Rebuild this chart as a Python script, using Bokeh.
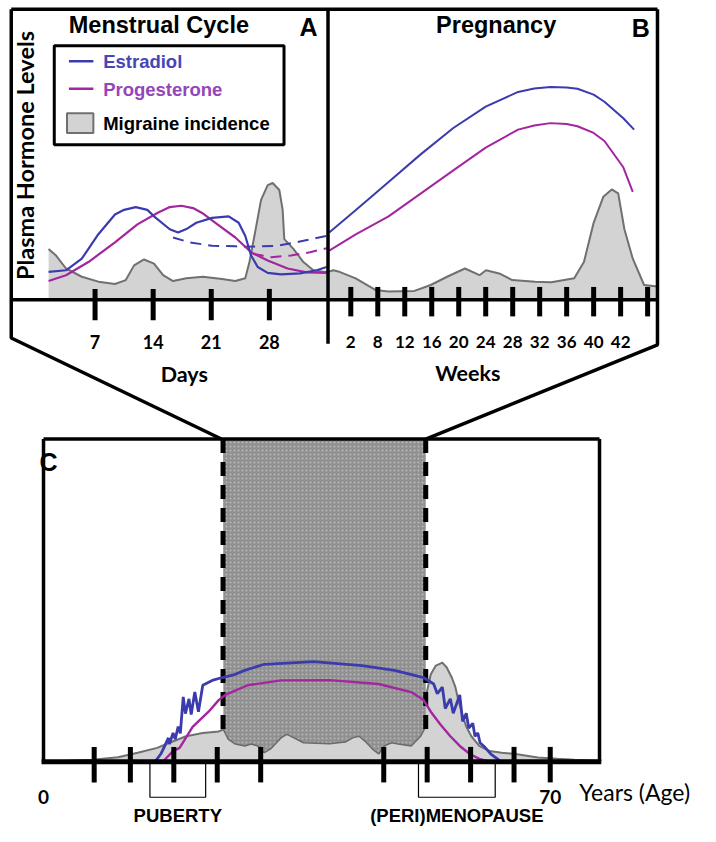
import math
from bokeh.plotting import figure
from bokeh.models import Range1d
from bokeh.core.properties import value
from bokeh.embed import file_html
from bokeh.resources import INLINE

# ------------------------------------------------------------------ data
SERIES = ["Estradiol", "Progesterone", "Migraine incidence"]

# Panel A : menstrual cycle (x = day of cycle, y = relative level)
A_E2_DAY = [1.4, 3.5, 5.4, 7.4, 9.4, 10.5, 11.9, 13.3, 14.1, 16.0, 17.0, 18.0, 19.2, 21.1, 23.1, 24.3, 25.1, 25.8,
            26.6, 27.8, 29.4, 31.7, 33.7, 34.9]
A_E2 = [14.2, 15.0, 20.9, 33.4, 43.4, 45.8, 47.2, 45.8, 42.5, 35.9, 34.2, 36.0, 39.2, 41.7, 42.5, 39.2, 32.5, 22.5,
        16.7, 13.7, 12.9, 13.4, 15.0, 16.7]
A_E2_ALT_DAY = [16.4, 18.4, 21.1, 23.9, 25.1, 29.0, 32.1, 34.9]
A_E2_ALT = [31.7, 29.2, 27.5, 27.2, 27.0, 27.5, 30.0, 32.5]
A_P4_DAY = [1.4, 3.5, 6.2, 9.4, 12.1, 14.5, 16.0, 17.4, 18.8, 19.9, 21.5, 23.9, 25.8, 27.8, 30.2, 32.5, 34.9]
A_P4 = [9.5, 12.5, 19.2, 29.2, 38.4, 44.2, 47.2, 47.9, 46.7, 44.2, 39.2, 31.7, 24.2, 20.0, 15.9, 13.9, 13.7]
A_P4_ALT_DAY = [26.0, 28.2, 30.6, 32.9, 34.9]
A_P4_ALT = [23.4, 21.7, 22.5, 24.2, 26.2]
A_MIG_DAY = [1.4, 2.3, 3.5, 5.4, 7.4, 9.4, 10.7, 11.7, 12.9, 14.1, 15.2, 16.4, 18.0, 20.0, 22.3, 23.9, 25.1,
             25.6, 26.2, 27.0, 27.8, 28.4, 29.2, 29.6, 29.8, 30.9, 32.1, 33.3, 34.5, 35.1]
A_MIG = [25.9, 22.5, 15.9, 11.7, 9.2, 8.0, 10.0, 17.5, 20.5, 18.4, 12.5, 9.5, 10.9, 11.7, 10.5, 9.5, 10.9,
         19.2, 32.5, 50.9, 58.4, 59.5, 55.9, 45.9, 30.9, 25.9, 19.2, 15.0, 14.2, 14.2]
A_TICK_DAYS = [7, 14, 21, 28]

# Panel B : pregnancy (x = tick slot, labelled in weeks)
B_TICK_POS = [1, 2, 3, 4, 5, 6, 7, 8, 9, 10, 11, 12]
B_TICK_LABELS = ["2", "8", "12", "16", "20", "24", "28", "32", "36", "40", "42", ""]
B_E2_POS = [0.2, 1.2, 2.4, 3.6, 4.8, 6.0, 7.2, 7.8, 8.4, 9.0, 9.4, 10.0, 10.4, 11.1, 11.5]
B_E2 = [34.2, 45.9, 60.0, 74.2, 87.5, 98.4, 105.9, 107.6, 108.4, 108.2, 107.5, 104.5, 100.9, 92.5, 86.7]
B_P4_POS = [0.2, 1.2, 2.4, 3.6, 4.8, 6.0, 7.2, 7.8, 8.4, 9.0, 9.4, 10.0, 10.4, 11.1, 11.45]
B_P4 = [25.0, 33.4, 42.5, 54.2, 65.9, 77.5, 86.7, 88.8, 90.0, 89.6, 88.4, 85.0, 80.9, 67.5, 55.0]
B_MIG_POS = [0.16, 0.35, 0.58, 1.18, 1.91, 2.39, 3.36, 3.96, 4.57, 5.23, 5.77, 6.01, 6.5, 6.98, 7.83, 8.43,
             9.28, 9.64, 10.0, 10.36, 10.67, 10.91, 11.14, 11.45, 11.87, 12.37]
B_MIG = [14.2, 15.0, 14.2, 10.9, 5.0, 4.2, 4.5, 7.5, 11.7, 15.9, 12.5, 15.0, 13.4, 10.0, 9.2, 8.9,
         10.9, 19.2, 39.2, 52.5, 56.2, 54.2, 35.9, 20.9, 7.5, 6.7]

# Panel C : lifespan (x = years of age)
C_TICK_YEARS = [7, 12, 18, 24, 30, 47, 53, 59, 65, 70]
C_LABEL_YEARS = [0, 70]
C_LABELS = ["0", "70"]
REPRO_YEARS = [24.8, 52.8]
PHASES = ["PUBERTY", "(PERI)MENOPAUSE"]
PHASE_START = [14.7, 51.8]
PHASE_END = [22.4, 62.4]
C_MIG_YR = [0, 6.75, 10.3, 13.0, 15.7, 17.4, 19.7, 22.0, 24.2, 24.85, 34.6, 45.4, 52.8, 53.5, 54.2, 55.1, 55.7,
            56.4, 56.9, 57.3, 57.8, 58.4, 59.1, 60.2, 61.6, 63.3, 65.2, 68.3, 71.0, 73.3, 76.7]
C_MIG = [0, 0.6, 1.4, 2.8, 4.3, 5.9, 7.9, 8.9, 9.4, 10.0, 10.9, 10.9, 20.1, 27.1, 29.8, 30.7, 29.2,
         26.1, 23.1, 19.1, 15.0, 10.9, 7.9, 4.9, 3.3, 2.8, 2.4, 1.3, 0.9, 0.6, 0.3]
C_SHADE_YR = [24.85, 25.5, 26.5, 27.8, 28.7, 29.6, 30.5, 31.4, 32.8, 33.6, 34.6, 35.9, 39.5, 41.7, 42.7,
              43.6, 44.4, 45.4, 46.3, 47.1, 48.1, 49.0, 50.8, 52.1, 52.8]
C_SHADE_LOW = [10.0, 7.0, 5.5, 4.9, 5.5, 4.9, 2.8, 4.0, 7.4, 8.5, 7.4, 5.9, 5.6, 6.1, 7.4,
               7.9, 6.4, 4.0, 2.4, 4.9, 5.9, 5.5, 4.9, 7.9, 10.9]
C_E2_YR = [15.4, 16.2, 16.75, 17.25, 17.4, 17.9, 18.2, 18.6, 18.9, 19.3, 19.6, 20.1, 20.4, 20.9, 21.4, 22.0,
           23.3, 24.7, 26.5, 27.8, 30.5, 37.3, 44.0, 48.5, 52.5, 53.9, 54.4, 55.1, 55.5, 56.2, 56.6, 57.5,
           57.9, 58.4, 58.75, 59.3, 59.6, 60.0, 60.3, 60.8, 61.8, 62.7, 63.2]
C_E2 = [0, 2.4, 4.9, 7.4, 5.5, 8.9, 7.0, 10.9, 8.8, 20.1, 14.9, 19.5, 14.6, 21.6, 15.5, 23.7,
        25.2, 26.1, 27.1, 28.3, 30.2, 31.0, 29.8, 28.3, 26.1, 24.1, 21.1, 23.1, 16.5, 19.5, 15.0, 20.7,
        12.5, 15.0, 10.4, 11.9, 7.9, 8.9, 5.9, 4.9, 2.4, 0.9, 0]
C_P4_YR = [16.1, 16.6, 17.9, 18.8, 20.6, 22.8, 24.2, 25.1, 26.0, 28.2, 32.8, 39.5, 46.3, 50.8, 52.5,
           53.5, 54.8, 56.2, 57.5, 58.9, 60.2, 61.6]
C_P4 = [0, 0.3, 3.3, 4.3, 10.8, 15.5, 19.1, 20.7, 21.6, 23.7, 25.2, 25.3, 24.1, 21.6, 19.1,
        15.5, 11.6, 7.9, 4.9, 2.4, 0.9, 0]

# ------------------------------------------------------------------ style
E2_COLOR = "#3b3bad"
P4_COLOR = "#a3259f"
MIG_FILL = "#d3d3d3"
MIG_LINE = "#707070"
TITLE_FONT = value("Liberation Sans")
LABEL_FONT = value("Lato")

W, H = 700, 826
# the drawing is laid out on a 716 x 842 design grid, scaled into the frame
PAGE_X = (0, 716)      # design x at frame left / right
PAGE_Y = (842, 0)      # design y at frame bottom / top


def frame_range(p_a, v_a, p_b, v_b, edges):
    k = (v_b - v_a) / (p_b - p_a)
    return Range1d(start=v_a + (edges[0] - p_a) * k, end=v_a + (edges[1] - p_a) * k)


p = figure(width=W, height=H, output_backend="svg", toolbar_location=None,
           x_range=Range1d(PAGE_X[0], PAGE_X[1]), y_range=Range1d(PAGE_Y[0], PAGE_Y[1]),
           min_border=0, outline_line_color=None)
p.axis.visible = False
p.grid.visible = False
p.background_fill_color = "white"

p.extra_x_ranges = {
    "A": frame_range(37.3, 0, 275.0, 28, PAGE_X),
    "B": frame_range(330.7, 0, 661.9, 12, PAGE_X),
    "C": frame_range(44.0, 0, 562.3, 70, PAGE_X),
}
p.extra_y_ranges = {
    "AB": frame_range(305, 0, 105, 100, PAGE_Y),
    "C": frame_range(776, 0, 447, 100, PAGE_Y),
}
A = dict(x_range_name="A", y_range_name="AB")
B = dict(x_range_name="B", y_range_name="AB")
C = dict(x_range_name="C", y_range_name="C")

# ------------------------------------------------------------------ panel A
p.varea(x=A_MIG_DAY, y1=0, y2=A_MIG, fill_color=MIG_FILL, **A)
p.line(A_MIG_DAY, A_MIG, line_color=MIG_LINE, line_width=2, **A)
p.line(A_E2_ALT_DAY, A_E2_ALT, line_color=E2_COLOR, line_width=2, line_dash="11 7", **A)
p.line(A_P4_ALT_DAY, A_P4_ALT, line_color=P4_COLOR, line_width=2, line_dash="11 7", **A)
p.line(A_P4_DAY, A_P4, line_color=P4_COLOR, line_width=2.2, **A)
p.line(A_E2_DAY, A_E2, line_color=E2_COLOR, line_width=2.2, **A)
p.segment(x0=A_TICK_DAYS, x1=A_TICK_DAYS, y0=5.5, y1=-10.5, line_color="black", line_width=5, **A)
p.text(x=A_TICK_DAYS, y=-21.5, text=[str(d) for d in A_TICK_DAYS], text_align="center",
       text_baseline="middle", text_font=LABEL_FONT, text_font_style="bold", text_font_size="18px", **A)

# ------------------------------------------------------------------ panel B
p.varea(x=B_MIG_POS, y1=0, y2=B_MIG, fill_color=MIG_FILL, **B)
p.line(B_MIG_POS, B_MIG, line_color=MIG_LINE, line_width=2, **B)
p.line(B_P4_POS, B_P4, line_color=P4_COLOR, line_width=2, **B)
p.line(B_E2_POS, B_E2, line_color=E2_COLOR, line_width=2, **B)
p.segment(x0=B_TICK_POS, x1=B_TICK_POS, y0=6.5, y1=-8.5, line_color="black", line_width=5, **B)
p.text(x=B_TICK_POS, y=-21.5, text=B_TICK_LABELS, text_align="center", text_baseline="middle",
       text_font=LABEL_FONT, text_font_style="bold", text_font_size="17px", **B)

# frames of panels A and B + connectors (design grid)
p.multi_line(xs=[[11, 672], [11, 672], [335, 335], [11, 11, 226], [672, 672, 435]],
             ys=[[9, 9], [305, 305], [9, 350], [9, 344, 447], [9, 351, 447]],
             line_color="black", line_width=3.5)

# ------------------------------------------------------------------ panel C
p.varea(x=C_MIG_YR, y1=0, y2=C_MIG, fill_color=MIG_FILL, **C)
p.line(C_MIG_YR, C_MIG, line_color=MIG_LINE, line_width=2, **C)
shade_x = [REPRO_YEARS[0]] + C_SHADE_YR + [REPRO_YEARS[1]]
shade_y = [100] + C_SHADE_LOW + [100]
p.patch(shade_x, shade_y, fill_color="#909090", line_color=None,
        hatch_pattern="dot", hatch_color="#b8b8b8", hatch_scale=4, hatch_weight=1, **C)
p.line(C_SHADE_YR, C_SHADE_LOW, line_color="#6a6a6a", line_width=1.5, **C)
p.segment(x0=REPRO_YEARS, x1=REPRO_YEARS, y0=100, y1=9.5, line_color="black", line_width=5,
          line_dash="14 9", **C)
p.line(C_P4_YR, C_P4, line_color=P4_COLOR, line_width=2.4, **C)
p.line(C_E2_YR, C_E2, line_color=E2_COLOR, line_width=2.8, **C)
p.segment(x0=C_TICK_YEARS, x1=C_TICK_YEARS, y0=4.6, y1=-6.4, line_color="black", line_width=5, **C)
p.multi_line(xs=[[s, s, e, e] for s, e in zip(PHASE_START, PHASE_END)],
             ys=[[0, -11, -11, 0] for _ in PHASES], line_color="black", line_width=1.2, **C)
p.text(x=[(s + e) / 2 for s, e in zip(PHASE_START, PHASE_END)], y=-16.8, text=PHASES,
       text_align="center", text_baseline="middle", text_font=TITLE_FONT, text_font_style="bold",
       text_font_size="18.5px", **C)
p.text(x=C_LABEL_YEARS, y=-10.8, text=C_LABELS, text_align="center", text_baseline="middle",
       text_font=LABEL_FONT, text_font_style="bold", text_font_size="19px", **C)

# panel C box
p.multi_line(xs=[[44, 612.7], [44, 44], [612.7, 612.7]], ys=[[447, 447], [447, 776], [447, 776]],
             line_color="black", line_width=3.5)
p.line([42, 614.5], [776, 776], line_color="black", line_width=5)

# ------------------------------------------------------------------ legend
p.quad(left=55, right=290, top=46, bottom=147, fill_color="white", line_color="black", line_width=3)
p.segment(x0=[70, 70], x1=[95, 95], y0=[62, 90], y1=[62, 90], line_color=[E2_COLOR, P4_COLOR], line_width=2.5)
p.quad(left=68, right=95, top=115, bottom=135, fill_color=MIG_FILL, line_color=MIG_LINE, line_width=2)
p.text(x=[105, 105, 105], y=[62, 91, 125], text=SERIES, text_color=["#4646b8", "#9446b8", "black"],
       text_baseline="middle", text_font=TITLE_FONT, text_font_style="bold", text_font_size="18.5px")

# ------------------------------------------------------------------ titles and axis names
p.text(x=[162, 507], y=[25, 25], text=["Menstrual Cycle", "Pregnancy"], text_align="center",
       text_baseline="middle", text_font=TITLE_FONT, text_font_style="bold", text_font_size="23.5px")
p.text(x=[315, 655, 49], y=[27, 28, 470], text=["A", "B", "C"], text_align="center",
       text_baseline="middle", text_font=TITLE_FONT, text_font_style="bold", text_font_size="25px")
p.text(x=[25], y=[158], text=["Plasma Hormone Levels"], angle=math.pi / 2, text_align="center",
       text_baseline="middle", text_font=LABEL_FONT, text_font_style="bold", text_font_size="23.5px")
p.text(x=[188, 478], y=[381, 380], text=["Days", "Weeks"], text_align="center", text_baseline="middle",
       text_font=LABEL_FONT, text_font_style="bold", text_font_size="21.5px")
p.text(x=[592], y=[807], text=["Years (Age)"], text_baseline="middle", text_font=LABEL_FONT,
       text_font_size="23px")

open("out.html", "w").write(file_html(p, INLINE))
